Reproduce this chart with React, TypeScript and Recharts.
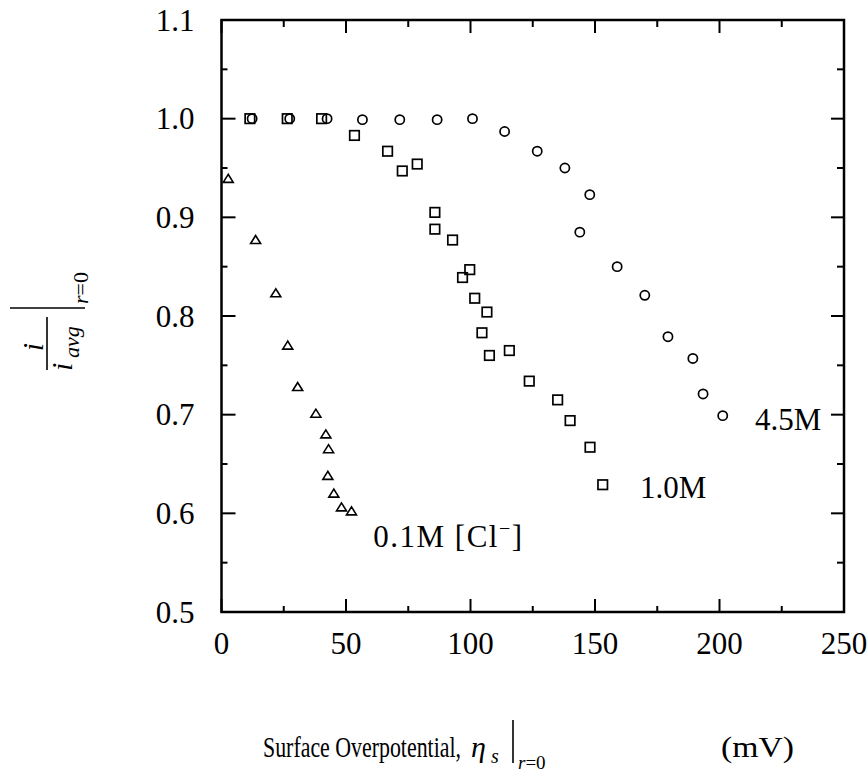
import React from 'react';
import { ScatterChart, Scatter, XAxis, YAxis, ReferenceDot, ReferenceArea } from 'recharts';

// ---- data ----
const xTicks = [0, 25, 50, 75, 100, 125, 150, 175, 200, 225, 250];
const yTicks = [0.5, 0.55, 0.6, 0.65, 0.7, 0.75, 0.8, 0.85, 0.9, 0.95, 1.0, 1.05, 1.1];

// 4.5M (circles)
const c45X = [12.3, 27.4, 42.4, 56.6, 71.6, 86.6, 100.8, 113.7, 126.8, 137.9, 147.9, 143.9, 158.9, 170.0, 179.3, 189.3, 193.4, 201.3];
const c45Y = [1.0, 1.0, 1.0, 0.999, 0.999, 0.999, 1.0, 0.987, 0.967, 0.95, 0.923, 0.885, 0.85, 0.821, 0.779, 0.757, 0.721, 0.699];

// 1.0M (squares)
const c10X = [11.4, 26.4, 40.2, 53.4, 66.7, 72.6, 78.6, 85.7, 85.7, 92.8, 96.8, 99.7, 101.7, 104.6, 106.6, 107.6, 115.6, 123.6, 135.0, 140.0, 148.0, 153.1];
const c10Y = [1.0, 1.0, 1.0, 0.983, 0.967, 0.947, 0.954, 0.905, 0.888, 0.877, 0.839, 0.847, 0.818, 0.783, 0.804, 0.76, 0.765, 0.734, 0.715, 0.694, 0.667, 0.629];

// 0.1M [Cl-] (triangles)
const c01X = [2.7, 13.7, 21.8, 26.6, 30.6, 37.9, 41.9, 43.0, 42.7, 45.1, 48.2, 52.2];
const c01Y = [0.939, 0.877, 0.823, 0.77, 0.728, 0.701, 0.68, 0.665, 0.638, 0.62, 0.606, 0.602];

// annotation anchors (data coords of text baseline start)
const labelNames = ['4.5M', '1.0M', '0.1M'];
const labelX = [214.3, 168.1, 60.9];
const labelY = [0.6845, 0.6156, 0.566];

const toPts = (xs: number[], ys: number[]) => xs.map((x, i) => ({ x, y: ys[i] }));
const d45 = toPts(c45X, c45Y);
const d10 = toPts(c10X, c10Y);
const d01 = toPts(c01X, c01Y);

// ---- layout ----
const W = 868;
const H = 772;
const M_TOP = 20;
const M_RIGHT = 24;
const Y_AXIS_W = 221.5;
const X_AXIS_H = 160;
const PLOT_W = W - Y_AXIS_W - M_RIGHT;
const PLOT_H = H - X_AXIS_H - M_TOP;

const SERIF = '"Liberation Serif", "Times New Roman", serif';
const INK = '#000';
const TW = 2; // tick width

const isMajorX = (v: number) => v % 50 === 0;
const isMajorY = (v: number) => Math.round(v * 100) % 10 === 0;

// bottom axis tick: inward tick at bottom and mirrored inward tick at the top edge
const BottomTick = (p: any) => {
  const { x, y, payload } = p;
  const v = payload.value;
  const major = isMajorX(v);
  const len = major ? 13 : 6;
  const lenTop = major ? 13 : 7;
  return (
    <g>
      <rect x={x - TW / 2} y={y - len} width={TW} height={len} fill={INK} />
      <rect x={x - TW / 2} y={y - PLOT_H} width={TW} height={lenTop} fill={INK} />
      {major && (
        <text x={x} y={y + 42} textAnchor="middle" fontFamily={SERIF} fontSize={31} fill={INK}>
          {v}
        </text>
      )}
    </g>
  );
};

// left axis tick: inward tick at left and mirrored inward tick at the right edge
const LeftTick = (p: any) => {
  const { x, y, payload } = p;
  const v = payload.value;
  const major = isMajorY(v);
  const len = major ? 14 : 6;
  const lenR = major ? 13 : 7;
  return (
    <g>
      <rect x={x} y={y - TW / 2} width={len} height={TW} fill={INK} />
      <rect x={x + PLOT_W - lenR} y={y - TW / 2} width={lenR} height={TW} fill={INK} />
      {major && (
        <text x={x - 27} y={y + 10.5} textAnchor="end" fontFamily={SERIF} fontSize={31} fill={INK}>
          {v.toFixed(1)}
        </text>
      )}
    </g>
  );
};

const CircleShape = (p: any) => (
  <circle cx={p.cx} cy={p.cy} r={4.6} fill="none" stroke={INK} strokeWidth={1.7} />
);
const SquareShape = (p: any) => (
  <rect x={p.cx - 4.75} y={p.cy - 4.75} width={9.5} height={9.5} fill="none" stroke={INK} strokeWidth={1.7} />
);
const TriangleShape = (p: any) => (
  <polygon
    points={`${p.cx},${p.cy - 4.5} ${p.cx - 5},${p.cy + 3.5} ${p.cx + 5},${p.cy + 3.5}`}
    fill="none"
    stroke={INK}
    strokeWidth={1.6}
  />
);

const AnnText = (name: string) => (p: any) => {
  if (name === '0.1M') {
    return (
      <text x={p.cx} y={p.cy} fontFamily={SERIF} fontSize={31} fill={INK} textLength={149} lengthAdjust="spacing">
        0.1M [Cl
        <tspan fontSize={20} dy={-12}>−</tspan>
        <tspan dy={12}>]</tspan>
      </text>
    );
  }
  return (
    <text x={p.cx} y={p.cy} fontFamily={SERIF} fontSize={31} fill={INK}>
      {name}
    </text>
  );
};

const AxisTitles = () => (
  <g fill={INK} fontFamily={SERIF}>
    {/* x-axis title */}
    <text x={263} y={757} fontSize={29} textLength={198} lengthAdjust="spacingAndGlyphs">
      Surface Overpotential,
    </text>
    <text x={471} y={757} fontSize={30} fontStyle="italic">η</text>
    <text x={491} y={763} fontSize={20} fontStyle="italic">s</text>
    <line x1={513} x2={513} y1={720} y2={763} stroke={INK} strokeWidth={1.6} />
    <text x={518} y={769} fontSize={19}>
      <tspan fontStyle="italic">r</tspan>=0
    </text>
    <text x={721} y={757} fontSize={30} textLength={73} lengthAdjust="spacingAndGlyphs">(mV)</text>

    {/* y-axis title, rotated */}
    <g transform="translate(8,340) rotate(-90)">
      <text x={-7} y={35} fontSize={30} fontStyle="italic" textAnchor="middle">i</text>
      <line x1={-30} x2={23} y1={39} y2={39} stroke={INK} strokeWidth={1.6} />
      <text x={-31} y={64} fontSize={30} fontStyle="italic">i</text>
      <text x={-18} y={71} fontSize={22} fontStyle="italic">avg</text>
      <line x1={32} x2={32} y1={2} y2={77} stroke={INK} strokeWidth={1.6} />
      <text x={36} y={80} fontSize={22}>
        <tspan fontStyle="italic">r</tspan>=0
      </text>
    </g>
  </g>
);

export default function App() {
  return (
    <div style={{ position: 'absolute', left: 0, top: 0, width: W, height: H, background: '#fff' }}>
      <ScatterChart width={W} height={H} margin={{ top: M_TOP, right: M_RIGHT, bottom: 0, left: 0 }}>
        <XAxis
          type="number"
          dataKey="x"
          domain={[0, 250]}
          ticks={xTicks}
          interval={0}
          height={X_AXIS_H}
          tickSize={0}
          tickMargin={0}
          tickLine={false}
          axisLine={false}
          tick={<BottomTick />}
          allowDataOverflow
        />
        <YAxis
          type="number"
          dataKey="y"
          domain={[0.5, 1.1]}
          ticks={yTicks}
          interval={0}
          width={Y_AXIS_W}
          tickSize={0}
          tickMargin={0}
          tickLine={false}
          axisLine={false}
          tick={<LeftTick />}
          allowDataOverflow
        />
        <ReferenceArea
          x1={0}
          x2={250}
          y1={0.5}
          y2={1.1}
          fill="none"
          stroke={INK}
          strokeWidth={2.5}
          ifOverflow="visible"
        />
        <Scatter data={d45} shape={CircleShape} isAnimationActive={false} />
        <Scatter data={d10} shape={SquareShape} isAnimationActive={false} />
        <Scatter data={d01} shape={TriangleShape} isAnimationActive={false} />
        {labelNames.map((n, i) => (
          <ReferenceDot key={n} x={labelX[i]} y={labelY[i]} r={0} ifOverflow="visible" shape={AnnText(n)} />
        ))}
        <AxisTitles />
      </ScatterChart>
    </div>
  );
}
